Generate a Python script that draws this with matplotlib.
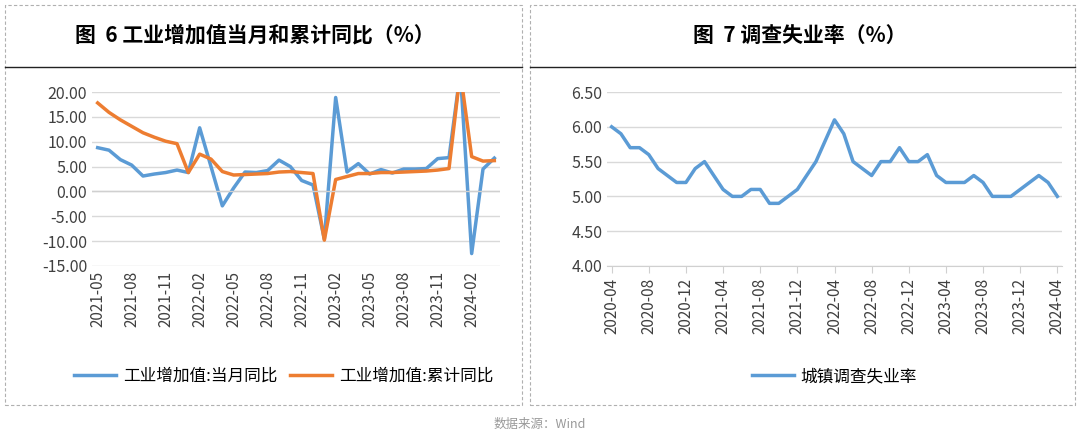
import matplotlib
matplotlib.use("Agg")
import matplotlib.pyplot as plt
from matplotlib.patches import Rectangle
from matplotlib.lines import Line2D
import pandas as pd

plt.rcParams['font.family'] = ['Noto Sans CJK SC', 'DejaVu Sans']

months_left = pd.period_range('2021-05', '2024-04', freq='M').strftime('%Y-%m').tolist()
iva_month = [8.8, 8.3, 6.4, 5.3, 3.1, 3.5, 3.8, 4.3,
             3.8, 12.8, 5.0, -2.9, 0.7, 3.9, 3.8, 4.2, 6.3, 5.0, 2.2, 1.3,
             -9.6, 18.9, 3.9, 5.6, 3.5, 4.4, 3.7, 4.5, 4.5, 4.6, 6.6, 6.8,
             24.0, -12.5, 4.5, 6.7]
iva_cum = [17.8, 15.9, 14.4, 13.1, 11.8, 10.9, 10.1, 9.6,
           3.8, 7.5, 6.5, 4.0, 3.3, 3.4, 3.5, 3.6, 3.9, 4.0, 3.8, 3.6,
           -9.8, 2.4, 3.0, 3.6, 3.6, 3.8, 3.8, 3.9, 4.0, 4.1, 4.3, 4.6,
           24.0, 7.0, 6.1, 6.2]

months_right = pd.period_range('2020-04', '2024-04', freq='M').strftime('%Y-%m').tolist()
unemp = [6.0, 5.9, 5.7, 5.7, 5.6, 5.4, 5.3, 5.2, 5.2,
         5.4, 5.5, 5.3, 5.1, 5.0, 5.0, 5.1, 5.1, 4.9, 4.9, 5.0, 5.1,
         5.3, 5.5, 5.8, 6.1, 5.9, 5.5, 5.4, 5.3, 5.5, 5.5, 5.7, 5.5,
         5.5, 5.6, 5.3, 5.2, 5.2, 5.2, 5.3, 5.2, 5.0, 5.0, 5.0, 5.1,
         5.2, 5.3, 5.2, 5.0]

BLUE = '#5b9bd5'
ORANGE = '#ed7d31'
W, H = 1080, 438
fig = plt.figure(figsize=(10.8, 4.38), dpi=100)

def fx(px): return px / W
def fy(py): return 1 - py / H

# panel borders
for x0, x1 in [(5, 522), (530, 1075)]:
    fig.add_artist(Rectangle((fx(x0), fy(405)), fx(x1 - x0), (405 - 5) / H, transform=fig.transFigure,
                             fill=False, ec='#b0b0b0', ls=(0, (3, 2)), lw=0.8))
    fig.add_artist(Line2D([fx(x0), fx(x1)], [fy(67), fy(67)], transform=fig.transFigure,
                          color='#222222', lw=1.0))

fig.text(fx(255), fy(35), '图  6 工业增加值当月和累计同比（%）', ha='center', va='center',
         fontsize=15, fontweight='bold')
fig.text(fx(800), fy(35), '图  7 调查失业率（%）', ha='center', va='center',
         fontsize=15, fontweight='bold')
fig.text(0.5, fy(424), '数据来源：Wind', ha='center', va='center', fontsize=9, color='#999999')

def style(ax):
    for s in ['top', 'right', 'left']:
        ax.spines[s].set_visible(False)
    ax.spines['bottom'].set_color('#d0d0d0')
    ax.grid(axis='y', color='#d9d9d9', lw=1)
    ax.set_axisbelow(True)
    ax.tick_params(axis='y', length=0, labelsize=11.5, colors='#404040')
    ax.tick_params(axis='x', length=5, color='#d0d0d0', labelsize=11, colors='#404040', rotation=90)

# left
ax1 = fig.add_axes([fx(92), fy(266), fx(500 - 92), (266 - 92) / H])
xl = range(len(months_left))
ax1.plot(xl, iva_month, color=BLUE, lw=2.5, label='工业增加值:当月同比')
ax1.plot(xl, iva_cum, color=ORANGE, lw=2.5, label='工业增加值:累计同比')
ax1.set_ylim(-15, 20)
ax1.set_yticks(range(-15, 21, 5))
ax1.set_yticklabels([f'{v:.2f}' for v in range(-15, 21, 5)])
ax1.set_xlim(-0.5, len(months_left) - 0.5)
ax1.axhline(0, color='#d0d0d0', lw=1)
ax1.set_xticks(list(xl)[::3])
ax1.set_xticklabels(months_left[::3])
style(ax1)
ax1.spines['bottom'].set_visible(False)
ax1.tick_params(axis='x', length=0)
ax1.legend(loc='upper center', bbox_to_anchor=(0.47, -0.5), ncol=2, frameon=False,
           fontsize=12, handlelength=2.5, handletextpad=0.4, columnspacing=0.8)

# right
ax2 = fig.add_axes([fx(607), fy(266), fx(1062 - 607), (266 - 92) / H])
xr = range(len(months_right))
ax2.plot(xr, unemp, color=BLUE, lw=2.5, label='城镇调查失业率')
ax2.set_ylim(4.0, 6.5)
ax2.set_yticks([4.0, 4.5, 5.0, 5.5, 6.0, 6.5])
ax2.set_yticklabels([f'{v:.2f}' for v in [4.0, 4.5, 5.0, 5.5, 6.0, 6.5]])
ax2.set_xlim(-0.5, len(months_right) - 0.5)
ax2.set_xticks(list(xr)[::4])
ax2.set_xticklabels(months_right[::4])
style(ax2)
ax2.legend(loc='upper center', bbox_to_anchor=(0.5, -0.5), frameon=False,
           fontsize=12, handlelength=2.5, handletextpad=0.4)

fig.savefig('out.png', dpi=100)
